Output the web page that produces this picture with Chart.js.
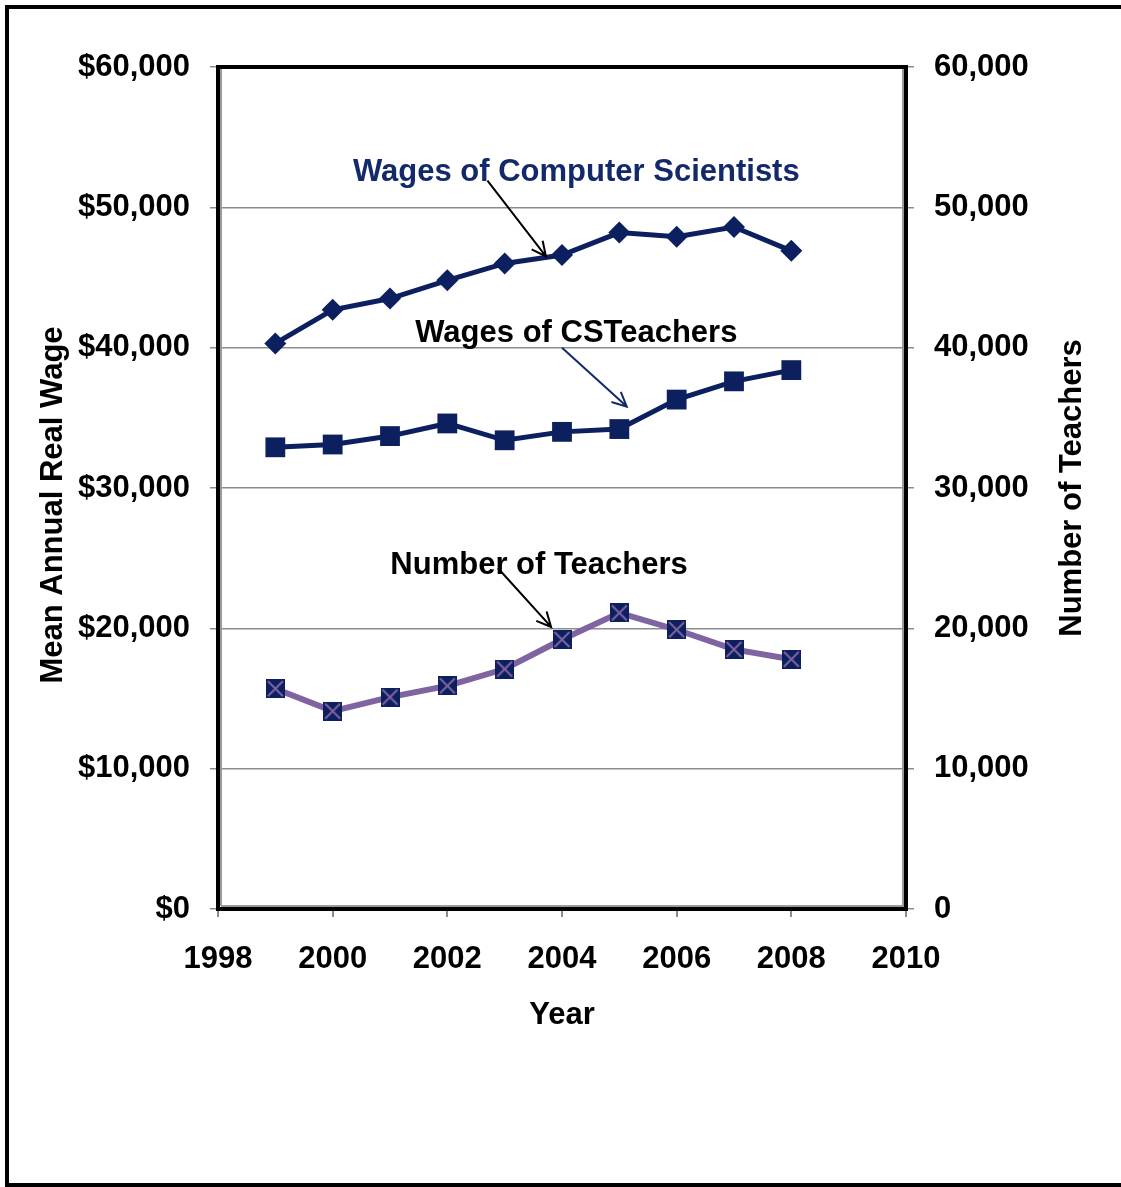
<!DOCTYPE html>
<html>
<head>
<meta charset="utf-8">
<script src="https://cdn.jsdelivr.net/npm/chart.js@4.4.1/dist/chart.umd.min.js"></script>
<style>
  html, body { margin: 0; padding: 0; background: #fff; }
  canvas { display: block; }
</style>
</head>
<body>
<canvas id="wageChart" width="1121" height="1187"></canvas>
<script>
// Data
const years = [1999, 2000, 2001, 2002, 2003, 2004, 2005, 2006, 2007, 2008];
const csWages = [40300, 42700, 43500, 44800, 46000, 46600, 48200, 47900, 48600, 46900];
const teacherWages = [32900, 33100, 33700, 34600, 33400, 34000, 34200, 36300, 37600, 38400];
const teacherCount = [15700, 14100, 15100, 15900, 17100, 19200, 21100, 19900, 18500, 17800];

// Annotations in data coordinates: label position, arrow start, arrow end
const notes = [
    { text: 'Wages of Computer Scientists', color: '#13296a', at: [2004.25, 52500], from: [2002.7, 51900], to: [2003.72, 46500], arrow: '#000' },
    { text: 'Wages of CSTeachers', color: '#000', at: [2004.25, 41000], from: [2004.0, 40000], to: [2005.13, 35800], arrow: '#13296a' },
    { text: 'Number of Teachers', color: '#000', at: [2003.6, 24500], from: [2002.88, 24300], to: [2003.81, 20100], arrow: '#000' }
];

const navy = '#0c1f5e';
const purple = '#8064a2';
const gridGray = '#8c8c8c';
const FONT = 'Liberation Sans, Arial, sans-serif';

// marker for teacher count: navy square with a purple cross
function makeCrossSquare() {
    const c = document.createElement('canvas');
    c.width = 19; c.height = 19;
    const g = c.getContext('2d');
    g.fillStyle = navy;
    g.fillRect(0, 0, 19, 19);
    g.strokeStyle = purple;
    g.lineWidth = 2;
    g.beginPath();
    g.moveTo(2, 2); g.lineTo(17, 17);
    g.moveTo(17, 2); g.lineTo(2, 17);
    g.stroke();
    return c;
}

const framePlugin = {
    id: 'frame',
    beforeDraw(chart) {
        const ctx = chart.ctx;
        ctx.save();
        ctx.fillStyle = '#fff';
        ctx.fillRect(0, 0, chart.width, chart.height);
        ctx.strokeStyle = '#000';
        ctx.lineWidth = 4;
        ctx.strokeRect(7, 7, chart.width + 20, chart.height - 9);
        ctx.restore();
    },
    afterDatasetsDraw(chart) {
        const { ctx, chartArea: a, scales } = chart;
        ctx.save();
        // plot frame
        ctx.strokeStyle = '#000';
        ctx.lineWidth = 4;
        ctx.strokeRect(a.left, a.top, a.right - a.left, a.bottom - a.top);
        ctx.strokeStyle = '#9a9a9a';
        ctx.lineWidth = 2;
        ctx.beginPath();
        ctx.moveTo(a.left + 3, a.top + 2); ctx.lineTo(a.left + 3, a.bottom - 3);
        ctx.moveTo(a.left + 3, a.bottom - 3); ctx.lineTo(a.right - 2, a.bottom - 3);
        ctx.moveTo(a.right - 3, a.top + 2); ctx.lineTo(a.right - 3, a.bottom - 3);
        ctx.stroke();

        // annotations
        const x = scales.x, y = scales.y;
        ctx.font = 'bold 31px ' + FONT;
        ctx.textAlign = 'center';
        ctx.textBaseline = 'middle';
        notes.forEach(n => {
            const x1 = x.getPixelForValue(n.from[0]), y1 = y.getPixelForValue(n.from[1]);
            const x2 = x.getPixelForValue(n.to[0]), y2 = y.getPixelForValue(n.to[1]);
            const ang = Math.atan2(y2 - y1, x2 - x1);
            ctx.strokeStyle = n.arrow;
            ctx.lineWidth = 2;
            ctx.beginPath();
            ctx.moveTo(x1, y1); ctx.lineTo(x2, y2);
            ctx.moveTo(x2 - 16 * Math.cos(ang - 0.45), y2 - 16 * Math.sin(ang - 0.45));
            ctx.lineTo(x2, y2);
            ctx.lineTo(x2 - 16 * Math.cos(ang + 0.45), y2 - 16 * Math.sin(ang + 0.45));
            ctx.stroke();
            ctx.fillStyle = n.color;
            ctx.fillText(n.text, x.getPixelForValue(n.at[0]), y.getPixelForValue(n.at[1]));
        });

        // vertical axis titles (both read bottom to top)
        ctx.fillStyle = '#000';
        ctx.save();
        ctx.translate(53, (a.top + a.bottom) / 2 + 17);
        ctx.rotate(-Math.PI / 2);
        ctx.fillText('Mean Annual Real Wage', 0, 0);
        ctx.restore();
        ctx.save();
        ctx.translate(1072, (a.top + a.bottom) / 2);
        ctx.rotate(-Math.PI / 2);
        ctx.fillText('Number of Teachers', 0, 0);
        ctx.restore();
        ctx.restore();
    }
};

function initChart() {
    const ctx = document.getElementById('wageChart').getContext('2d');
    const tickFont = { family: FONT, size: 31, weight: 'bold' };

    new Chart(ctx, {
        type: 'line',
        data: {
            labels: years,
            datasets: [
                {
                    data: csWages, yAxisID: 'y', borderColor: navy, backgroundColor: navy, borderWidth: 5,
                    pointStyle: 'rectRot', pointRadius: 11, pointBorderWidth: 0, tension: 0
                },
                {
                    data: teacherWages, yAxisID: 'y', borderColor: navy, backgroundColor: navy, borderWidth: 5,
                    pointStyle: 'rect', pointRadius: 14, pointBorderWidth: 0, tension: 0
                },
                {
                    data: teacherCount, yAxisID: 'y2', borderColor: purple, backgroundColor: navy, borderWidth: 6,
                    pointStyle: makeCrossSquare(), pointRadius: 10, tension: 0
                }
            ]
        },
        options: {
            responsive: false,
            animation: false,
            layout: { padding: { top: 67, left: 0, right: 0, bottom: 0 } },
            plugins: { legend: { display: false }, tooltip: { enabled: false } },
            scales: {
                x: {
                    type: 'linear', min: 1998, max: 2010,
                    border: { display: false },
                    grid: { drawOnChartArea: false, drawTicks: true, tickLength: 8, color: gridGray, lineWidth: 2 },
                    ticks: { stepSize: 2, color: '#000', font: tickFont, padding: 24, maxRotation: 0, callback: v => String(v) },
                    title: { display: true, text: 'Year', color: '#000', font: tickFont, padding: { top: 0, bottom: 153 } },
                    afterFit: s => { s.height = 278; }
                },
                y: {
                    position: 'left', min: 0, max: 60000,
                    border: { display: false },
                    grid: { color: gridGray, lineWidth: 1.5, tickLength: 8 },
                    ticks: { stepSize: 10000, color: '#000', font: tickFont, padding: 20, callback: v => '$' + v.toLocaleString('en-US') },
                    afterFit: s => { s.width = 218; }
                },
                y2: {
                    position: 'right', min: 0, max: 60000,
                    border: { display: false },
                    grid: { drawOnChartArea: false, color: gridGray, lineWidth: 1.5, tickLength: 8 },
                    ticks: { stepSize: 10000, color: '#000', font: tickFont, padding: 20, callback: v => v.toLocaleString('en-US') },
                    afterFit: s => { s.width = 215; }
                }
            }
        },
        plugins: [framePlugin]
    });
}

window.onload = () => {
    initChart();
};
</script>
</body>
</html>
